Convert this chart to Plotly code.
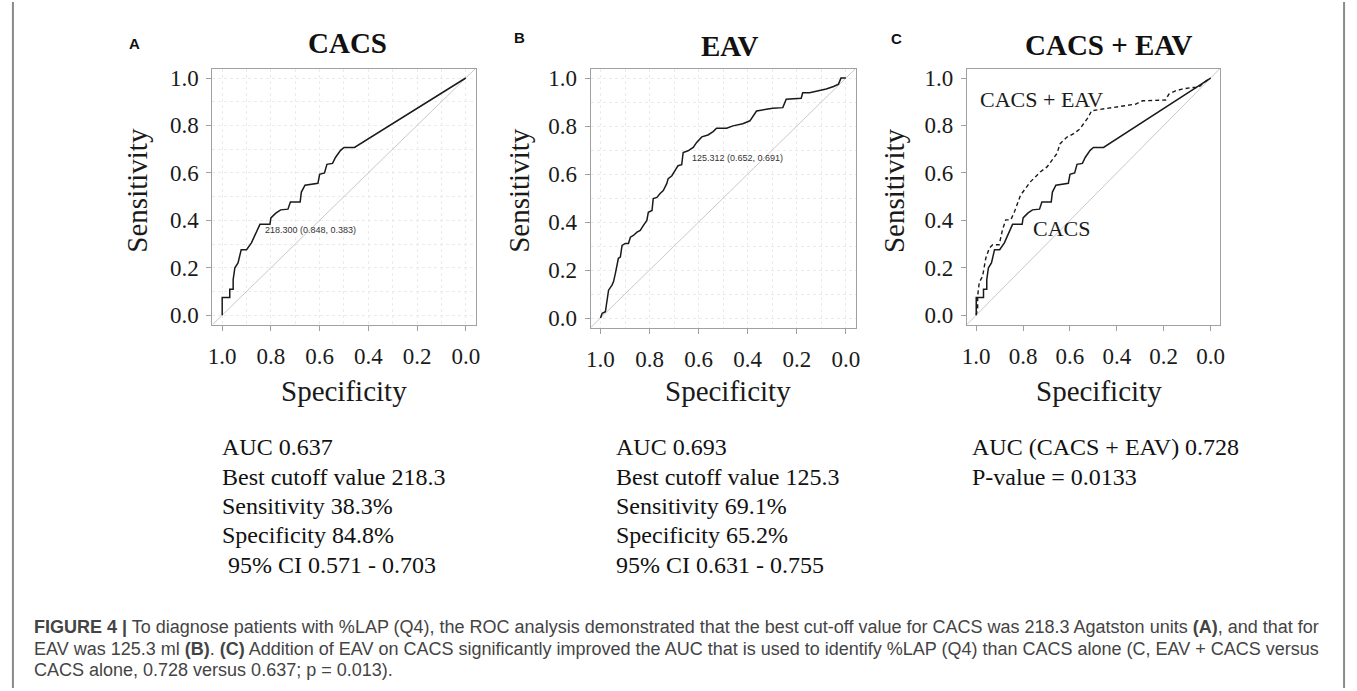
import plotly.graph_objects as go

W, H = 1357, 691

# ---------------- data ----------------
# CACS ROC curve (specificity, sensitivity)
cacs_spec = [1.0, 1.0, 0.969, 0.969, 0.955, 0.955, 0.948, 0.935, 0.922, 0.900, 0.880, 0.860,
             0.845, 0.804, 0.800, 0.780, 0.760, 0.730, 0.720, 0.680, 0.675, 0.660, 0.640,
             0.607, 0.600, 0.580, 0.570, 0.547, 0.535, 0.514, 0.500, 0.457, 0.0]
cacs_sens = [0.0, 0.075, 0.075, 0.109, 0.109, 0.150, 0.200, 0.220, 0.276, 0.276, 0.305, 0.347,
             0.383, 0.383, 0.410, 0.430, 0.444, 0.447, 0.477, 0.477, 0.519, 0.548, 0.552,
             0.556, 0.594, 0.600, 0.636, 0.640, 0.665, 0.695, 0.707, 0.707, 1.0]

# EAV ROC curve
eav_spec = [1.0, 0.993, 0.980, 0.973, 0.967, 0.953, 0.947, 0.939, 0.932, 0.927, 0.919, 0.912,
            0.899, 0.886, 0.878, 0.866, 0.851, 0.838, 0.825, 0.811, 0.805, 0.790, 0.785, 0.770,
            0.757, 0.744, 0.730, 0.724, 0.709, 0.696, 0.684, 0.669, 0.663, 0.643, 0.622, 0.608,
            0.587, 0.562, 0.541, 0.527, 0.486, 0.460, 0.420, 0.391, 0.379, 0.364, 0.324, 0.298,
            0.257, 0.243, 0.182, 0.176, 0.148, 0.120, 0.080, 0.050, 0.030, 0.020, 0.0]
eav_sens = [0.0, 0.020, 0.026, 0.075, 0.116, 0.137, 0.151, 0.187, 0.228, 0.249, 0.254, 0.303,
            0.311, 0.311, 0.337, 0.344, 0.358, 0.365, 0.386, 0.407, 0.441, 0.448, 0.498, 0.503,
            0.519, 0.531, 0.560, 0.581, 0.593, 0.614, 0.635, 0.639, 0.690, 0.697, 0.711, 0.732,
            0.755, 0.763, 0.777, 0.791, 0.791, 0.801, 0.810, 0.822, 0.842, 0.863, 0.870, 0.874,
            0.877, 0.912, 0.916, 0.939, 0.939, 0.945, 0.955, 0.965, 0.975, 1.0, 1.0]

# CACS + EAV combined ROC curve
combo_spec = [1.0, 0.994, 0.994, 0.987, 0.973, 0.966, 0.959, 0.944, 0.930, 0.902, 0.888, 0.874,
              0.853, 0.839, 0.825, 0.811, 0.790, 0.769, 0.748, 0.727, 0.698, 0.677, 0.656,
              0.642, 0.614, 0.586, 0.558, 0.543, 0.522, 0.508, 0.459, 0.417, 0.375, 0.319,
              0.290, 0.220, 0.192, 0.178, 0.150, 0.122, 0.079, 0.051, 0.030, 0.0]
combo_sens = [0.0, 0.030, 0.081, 0.138, 0.164, 0.206, 0.241, 0.283, 0.297, 0.297, 0.360, 0.402,
              0.402, 0.430, 0.472, 0.506, 0.534, 0.562, 0.583, 0.604, 0.625, 0.653, 0.681,
              0.723, 0.750, 0.764, 0.785, 0.806, 0.834, 0.862, 0.869, 0.876, 0.883, 0.890,
              0.904, 0.907, 0.907, 0.932, 0.946, 0.953, 0.960, 0.960, 0.980, 1.0]

# best cut-off points (panels A and B)
cut_thr = ["218.300", "125.312"]
cut_spec = [0.848, 0.652]
cut_sens = [0.383, 0.691]

tick_vals = [1.0, 0.8, 0.6, 0.4, 0.2, 0.0]
tick_text = ["1.0", "0.8", "0.6", "0.4", "0.2", "0.0"]

panel_letters = ["A", "B", "C"]
panel_titles = ["CACS", "EAV", "CACS + EAV"]
stats_A = ["AUC 0.637", "Best cutoff value 218.3", "Sensitivity 38.3%", "Specificity 84.8%",
           " 95% CI 0.571 - 0.703"]
stats_B = ["AUC 0.693", "Best cutoff value 125.3", "Sensitivity 69.1%", "Specificity 65.2%",
           "95% CI 0.631 - 0.755"]
stats_C = ["AUC (CACS + EAV) 0.728", "P-value = 0.0133"]
caption_lines = [
    "<b>FIGURE 4 |</b> To diagnose patients with %LAP (Q4), the ROC analysis demonstrated that the best cut-off value for CACS was 218.3 Agatston units <b>(A)</b>, and that for",
    "EAV was 125.3 ml <b>(B)</b>. <b>(C)</b> Addition of EAV on CACS significantly improved the AUC that is used to identify %LAP (Q4) than CACS alone (C, EAV + CACS versus",
    "CACS alone, 0.728 versus 0.637; p = 0.013).",
]

# ---------------- layout helpers ----------------
PAD = 0.04
SERIF = "Liberation Serif, Times New Roman, serif"
SANS = "Liberation Sans, Arial, sans-serif"


def px(x):
    return x / W


def py(y):
    return 1 - y / H


# pixel boxes for the three plot regions: (left, right, top, bottom)
boxes = [(209, 474, 67, 325), (590, 857, 67, 328), (969, 1224, 67, 325)]
show_grid = [True, True, False]

fig = go.Figure()

chance_spec = [1 + PAD, -PAD]
chance_sens = [1 - s for s in chance_spec]

for i in range(3):
    xa = "x" if i == 0 else f"x{i+1}"
    ya = "y" if i == 0 else f"y{i+1}"
    fig.add_trace(go.Scatter(x=chance_spec, y=chance_sens, mode="lines",
                             line=dict(color="#c9c9c9", width=1), xaxis=xa, yaxis=ya,
                             hoverinfo="skip", showlegend=False))

# Panel A
fig.add_trace(go.Scatter(x=cacs_spec, y=cacs_sens, mode="lines",
                         line=dict(color="#1a1a1a", width=1.5), xaxis="x", yaxis="y",
                         showlegend=False))
# Panel B
fig.add_trace(go.Scatter(x=eav_spec, y=eav_sens, mode="lines",
                         line=dict(color="#1a1a1a", width=1.5), xaxis="x2", yaxis="y2",
                         showlegend=False))
# Panel C
fig.add_trace(go.Scatter(x=cacs_spec, y=cacs_sens, mode="lines",
                         line=dict(color="#1a1a1a", width=1.5), xaxis="x3", yaxis="y3",
                         showlegend=False))
fig.add_trace(go.Scatter(x=combo_spec, y=combo_sens, mode="lines",
                         line=dict(color="#1a1a1a", width=1.4, dash="4px,3px"),
                         xaxis="x3", yaxis="y3", showlegend=False))

layout = dict(width=W, height=H, margin=dict(l=0, r=0, t=0, b=0),
              paper_bgcolor="white", plot_bgcolor="white", showlegend=False)

GRID = "#ebebeb"
for i, (l, r, t, b) in enumerate(boxes):
    suffix = "" if i == 0 else str(i + 1)
    grid = show_grid[i]
    common = dict(showline=True, mirror=True, linecolor="#a0a0a0", linewidth=1.2,
                  ticks="outside", ticklen=5, tickcolor="#a0a0a0", tickwidth=1,
                  tickvals=tick_vals, ticktext=tick_text, zeroline=False,
                  tickfont=dict(family=SERIF, size=23, color="#1a1a1a"),
                  showgrid=grid, gridcolor=GRID, gridwidth=1, griddash="dot",
                  minor=dict(dtick=0.1, tick0=0, showgrid=grid, gridcolor=GRID,
                             gridwidth=1, griddash="dot", ticks=""))
    layout["xaxis" + suffix] = dict(common, domain=[px(l), px(r)], range=[1 + PAD, -PAD],
                                    anchor="y" + suffix, ticklabelstandoff=6)
    layout["yaxis" + suffix] = dict(common, domain=[py(b), py(t)], range=[-PAD, 1 + PAD],
                                    anchor="x" + suffix, ticklabelstandoff=3)

fig.update_layout(**layout)

ann = []
# panel letters
for letter, (x, y) in zip(panel_letters, [(130, 42), (518, 36), (898, 37)]):
    ann.append(dict(text=f"<b>{letter}</b>", x=px(x), y=py(y), xref="paper", yref="paper",
                    showarrow=False, xanchor="center", yanchor="middle",
                    font=dict(family=SANS, size=15, color="#111")))
# titles
for title, (x, y) in zip(panel_titles, [(345, 41), (730, 44), (1112, 43)]):
    ann.append(dict(text=f"<b>{title}</b>", x=px(x), y=py(y), xref="paper", yref="paper",
                    showarrow=False, xanchor="center", yanchor="middle",
                    font=dict(family=SERIF, size=29, color="#111")))
# axis titles
for x in [133, 517, 895]:
    ann.append(dict(text="Sensitivity", x=px(x), y=py(190), xref="paper", yref="paper",
                    showarrow=False, textangle=-90, xanchor="center", yanchor="middle",
                    font=dict(family=SERIF, size=29, color="#1a1a1a")))
for x in [342, 728, 1102]:
    ann.append(dict(text="Specificity", x=px(x), y=py(392), xref="paper", yref="paper",
                    showarrow=False, xanchor="center", yanchor="middle",
                    font=dict(family=SERIF, size=29, color="#1a1a1a")))
# cut-off labels
for i, ax in enumerate(["", "2"]):
    ann.append(dict(text=f"{cut_thr[i]} ({cut_spec[i]:.3f}, {cut_sens[i]:.3f})",
                    x=cut_spec[i], y=cut_sens[i], xref="x" + ax, yref="y" + ax,
                    showarrow=False, xanchor="left", yanchor="top", xshift=4, yshift=1,
                    font=dict(family=SANS, size=9, color="#333")))
# panel C curve labels
ann.append(dict(text="CACS + EAV", x=px(1044), y=py(98), xref="paper", yref="paper",
                showarrow=False, xanchor="center", yanchor="middle",
                font=dict(family=SERIF, size=22, color="#1a1a1a")))
ann.append(dict(text="CACS", x=px(1064), y=py(228), xref="paper", yref="paper",
                showarrow=False, xanchor="center", yanchor="middle",
                font=dict(family=SERIF, size=22, color="#1a1a1a")))
# stats
line_y = [448, 478, 508, 537, 567]
for lines, x0 in [(stats_A, 217), (stats_B, 614), (stats_C, 972)]:
    for txt, y in zip(lines, line_y):
        ann.append(dict(text=txt.replace(" ", "&nbsp;", 1) if txt.startswith(" ") else txt,
                        x=px(x0), y=py(y), xref="paper", yref="paper",
                        showarrow=False, xanchor="left", yanchor="middle",
                        font=dict(family=SERIF, size=24, color="#111")))
# caption
for txt, y in zip(caption_lines, [630, 652, 673]):
    ann.append(dict(text=txt, x=px(27), y=py(y), xref="paper", yref="paper",
                    showarrow=False, xanchor="left", yanchor="middle",
                    font=dict(family=SANS, size=18, color="#444")))

fig.update_layout(annotations=ann)

# outer frame
fig.update_layout(shapes=[
    dict(type="line", xref="paper", yref="paper", x0=px(8), x1=px(8), y0=0, y1=1,
         line=dict(color="#8a8a8a", width=2)),
    dict(type="line", xref="paper", yref="paper", x0=px(1349), x1=px(1349), y0=0, y1=1,
         line=dict(color="#8a8a8a", width=2)),
])

fig.write_html("out.html", config={"displayModeBar": False},
               post_script="document.body.style.margin='0';document.body.style.overflow='hidden';")
